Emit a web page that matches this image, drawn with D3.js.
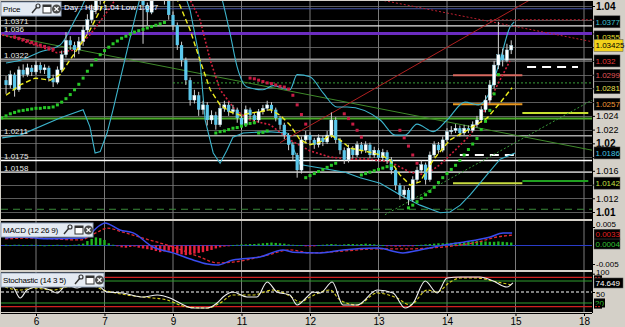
<!DOCTYPE html>
<html><head><meta charset="utf-8">
<script src="https://cdn.jsdelivr.net/npm/d3@7"></script>
<style>body{margin:0;background:#d4d0c8;overflow:hidden}svg{display:block;font-family:"Liberation Sans",Arial,sans-serif}</style>
</head><body><svg id="c" width="625" height="327"></svg>
<script>
// ---------- DATA ----------
const dayTicks = [0,16,32,48,64,80,96,112,128];
const dayLabels = ["6","7","9","11","12","13","14","15","18"];
const firstBar = -7;
const firstOpen = 1.0292;
const closes = [1.0285,1.0300,1.0278,1.0307,1.0300,1.0310,1.0304,1.0314,1.0307,1.0310,1.0295,1.0289,1.0307,1.0329,1.0350,1.0343,1.0336,1.0348,1.0365,1.0380,1.0394,1.0409,1.0423,1.0445,
1.0452,1.0467,1.0459,1.0474,1.0452,1.0438,1.0445,1.0423,
1.0401,1.0391,1.0416,1.0431,1.0423,1.0409,1.0387,1.0372,1.0343,1.0321,
1.0292,1.0263,1.0270,1.0249,1.0256,1.0234,1.0241,1.0227,1.0251,1.0256,
1.0246,1.0249,1.0237,1.0227,1.0249,1.0241,1.0234,1.0246,1.0251,1.0256,
1.0249,1.0237,1.0227,1.0212,1.0198,1.0183,1.0161,1.0205,1.0212,1.0205,
1.0198,1.0208,1.0202,1.0212,1.0234,1.0205,1.0190,1.0176,1.0193,1.0183,
1.0198,1.0190,1.0198,1.0183,1.0190,1.0179,1.0187,1.0176,1.0161,1.0139,
1.0125,1.0132,1.0118,1.0147,1.0161,1.0169,1.0147,1.0183,1.0198,1.0190,
1.0205,1.0217,1.0219,1.0222,1.0215,1.0222,1.0219,1.0227,1.0234,1.0249,
1.0263,1.0285,1.0314,1.0329,1.0321,1.0336,1.03425];
const highs = [1.0298,1.0306,1.0303,1.0312,1.0315,1.0316,1.0314,1.0320,1.0318,1.0315,1.0313,1.0300,1.0312,1.0335,1.0362,1.0356,1.0348,1.0355,1.0372,1.0388,1.0402,1.0416,1.0430,1.0452,
1.0460,1.0475,1.0472,1.0480,1.0478,1.0456,1.0450,1.0448,
1.0426,1.0405,1.0420,1.0436,1.0435,1.0426,1.0412,1.0392,1.0376,1.0348,
1.0325,1.0296,1.0278,1.0275,1.0262,1.0260,1.0248,1.0246,1.0258,1.0262,
1.0260,1.0256,1.0252,1.0240,1.0255,1.0252,1.0245,1.0250,1.0256,1.0262,
1.0260,1.0252,1.0240,1.0230,1.0215,1.0202,1.0186,1.0210,1.0218,1.0216,
1.0208,1.0213,1.0211,1.0218,1.0245,1.0238,1.0208,1.0194,1.0198,1.0196,
1.0203,1.0202,1.0203,1.0201,1.0195,1.0193,1.0192,1.0190,1.0180,1.0164,
1.0142,1.0138,1.0135,1.0152,1.0166,1.0175,1.0172,1.0188,1.0203,1.0202,
1.0210,1.0222,1.0225,1.0228,1.0226,1.0227,1.0226,1.0232,1.0240,1.0254,
1.0270,1.0292,1.0320,1.0377,1.0338,1.0345,1.0350];
const lows = [1.0272,1.0280,1.0268,1.0275,1.0296,1.0297,1.0298,1.0300,1.0302,1.0301,1.0290,1.0282,1.0286,1.0303,1.0325,1.0336,1.0325,1.0330,1.0342,1.0360,1.0375,1.0388,1.0402,1.0418,
1.0440,1.0446,1.0450,1.0452,1.0445,1.0430,1.0432,1.0415,
1.0345,1.0372,1.0388,1.0412,1.0418,1.0402,1.0380,1.0365,1.0336,1.0312,
1.0285,1.0255,1.0258,1.0240,1.0242,1.0226,1.0228,1.0220,1.0224,1.0246,
1.0240,1.0242,1.0230,1.0220,1.0224,1.0235,1.0228,1.0230,1.0242,1.0247,
1.0244,1.0232,1.0220,1.0206,1.0190,1.0175,1.0150,1.0156,1.0200,1.0198,
1.0192,1.0194,1.0196,1.0199,1.0208,1.0200,1.0184,1.0170,1.0172,1.0178,
1.0180,1.0185,1.0186,1.0178,1.0179,1.0174,1.0175,1.0170,1.0155,1.0132,
1.0118,1.0120,1.0110,1.0115,1.0143,1.0157,1.0140,1.0144,1.0180,1.0185,
1.0187,1.0202,1.0213,1.0215,1.0210,1.0212,1.0215,1.0216,1.0223,1.0230,
1.0245,1.0258,1.0280,1.0308,1.0312,1.0318,1.0330];

const bandUpper = [[-7,1.0317],[-3.7,1.0321],[0.9,1.0333],[5.6,1.0343],[9.1,1.0380],[11.4,1.0409],[13.8,1.0467],[26.6,1.0500],[40.7,1.0467],[43.5,1.0409],[45.3,1.0361],[47,1.0311],[49.3,1.0282],[53,1.0278],[55.4,1.0284],[59.3,1.0278],[61,1.0300],[64,1.0297],[67.1,1.0273],[70.3,1.0253],[72.7,1.0253],[80.4,1.0234],[83.9,1.0212],[86.2,1.0212],[89,1.0228],[92.8,1.0217],[96,1.0234],[100.2,1.0260],[103.3,1.0256],[105.6,1.0270],[108.4,1.0321],[110.7,1.0369],[111.7,1.0377]];
const bandLower = [[-7.9,1.0208],[-3.7,1.0212],[5.6,1.0237],[11,1.0249],[12.6,1.0224],[13.8,1.0186],[15,1.0188],[16.6,1.0215],[18,1.0249],[21.3,1.0336],[23.6,1.0395],[25.5,1.0440],[33.6,1.0438],[36,1.0394],[38.3,1.0321],[39.5,1.0234],[41.4,1.0186],[43,1.0171],[44.6,1.0190],[46,1.0209],[48.4,1.0215],[54,1.0217],[58.6,1.0215],[61.7,1.0169],[66.4,1.0164],[72.2,1.0158],[75.7,1.0150],[80.4,1.0142],[85,1.0125],[89.7,1.0110],[94.4,1.0099],[96.7,1.0100],[99.1,1.0110],[101.4,1.0125],[103.7,1.0142],[106.1,1.0160],[108.4,1.0177],[111.9,1.0186]];
const maFast = [[-7,1.0270],[-3.7,1.0285],[-0.2,1.0295],[3.3,1.0292],[5.6,1.0300],[7.9,1.0321],[10.3,1.0343],[12.6,1.0365],[15,1.0394],[17.3,1.0423],[22,1.0440],[29,1.0423],[32.5,1.0416],[33.6,1.0401],[36,1.0365],[38.3,1.0321],[40.7,1.0278],[43,1.0256],[45.3,1.0246],[47.7,1.0241],[50,1.0244],[52.3,1.0246],[54.7,1.0249],[57,1.0241],[59.3,1.0227],[61.7,1.0205],[64,1.0198],[66.4,1.0202],[68.7,1.0212],[71,1.0205],[73.4,1.0193],[75.7,1.0190],[78,1.0187],[80.4,1.0183],[82.7,1.0176],[85,1.0154],[87.4,1.0139],[89.7,1.0144],[92.8,1.0176],[96.7,1.0205],[100.7,1.0219],[105.4,1.0237],[108.4,1.0259],[111.2,1.0281]];
const maSlow = [[-7.9,1.0358],[-4.9,1.0353],[-0.2,1.0343],[4.9,1.0332],[9.1,1.0336],[12.6,1.0358],[16.1,1.0387],[18.5,1.0409],[22,1.0438],[32.5,1.0438],[36,1.0409],[38.3,1.0380],[40.7,1.0321],[43,1.0278],[46.5,1.0249],[50,1.0234],[54.7,1.0227],[59.3,1.0205],[64,1.0189],[68.7,1.0180],[73.4,1.0177],[78,1.0177],[82.7,1.0173],[87.4,1.0158],[90.9,1.0154],[94.4,1.0169],[97.9,1.0190],[101.4,1.0212],[104.9,1.0249],[107.2,1.0278],[110.7,1.0320]];
const sarUp = [[-8,1.0237],[-7,1.0240],[-6,1.0243],[-5,1.0245],[-4,1.0247],[-3,1.0248],[-2,1.0249],[-1,1.0250],[0,1.0251],[1,1.0251],[2,1.0252],[3,1.0252],[4,1.0253],[5,1.0256],[6,1.0260],[7,1.0265],[8,1.0271],[9,1.0278],[10,1.0286],[11,1.0295],[12,1.0305],[13,1.0314],[14,1.0322],[15,1.0329],[16,1.0335],[17,1.0340],[18,1.0345],[19,1.0349],[20,1.0353],[21,1.0356],[22,1.0359],[23,1.0362],[24,1.0364],[25,1.0366],[26,1.0368],[27,1.0370],[28,1.0372],[29,1.0374],[30,1.0376],
[42,1.0215],[43,1.0217],[44,1.0218],[45,1.0220],[46,1.0222],[47,1.0223],[48,1.0225],[49,1.0227],[50,1.0229],[51,1.0230],[52,1.0215],[53,1.0216],[54,1.0218],
[63,1.0150],[64,1.0153],[65,1.0156],[66,1.0159],[67,1.0162],[68,1.0165],[69,1.0168],[70,1.0171],
[76,1.0154],[77,1.0156],[78,1.0158],[79,1.0160],[80,1.0162],[81,1.0164],[82,1.0166],[83,1.0168],
[87,1.0106],[88,1.0110],[89,1.0115],[90,1.0120],[91,1.0125],[92,1.0130],[93,1.0136],[94,1.0143],[95,1.0150],[96,1.0156],[97,1.0162],[98,1.0168],[99,1.0175],[100,1.0183],[101,1.0191],[102,1.0199],[103,1.0207],[104,1.0220],[105,1.0232],[106,1.0248],[107,1.0272],[108,1.0300]];
const sarDown = [[-5,1.0355],[-4,1.0353],[-3,1.0351],[-2,1.0349],[-1,1.0347],[0,1.0345],[1,1.0343],[2,1.0341],[3,1.0339],[4,1.0337],
[50,1.0295],[51,1.0294],[52,1.0292],[53,1.0290],[54,1.0288],[55,1.0287],[56,1.0285],[57,1.0283],[58,1.0282],[59,1.0279],[60,1.0270],[61,1.0256],[62,1.0242],[63,1.0228],
[72,1.0243],[73,1.0236],[74,1.0228],[75,1.0219],[76,1.0209],
[85,1.0219],[86,1.0208],[87,1.0196],[88,1.0183],[89,1.0171]];

const fullLevels = [1.0396,1.0371,1.036,1.0322,1.0288,1.0236,1.0211,1.0175,1.0158,1.0104];
const leftLabelValues = [1.0371,1.036,1.0322,1.0211,1.0175,1.0158];
const leftLabelText = ["1.0371","1.036","1.0322","1.0211","1.0175","1.0158"];
const segLevels = [1.0299,1.0257,1.0142,1.0244,1.0145,1.0311,1.0183];
const segFrom = [97.4,97.4,97.4,113.6,113.6,114.7,99];
const segTo = [113.6,113.6,113.6,129,129,126.6,113];
const trendLines = [[[-7.9,1.0358],[129.9,1.0190]],[[57,1.0201],[115.4,1.0409]],[[80.4,1.0409],[129.9,1.0348]],[[106,1.0380],[130,1.0380]],[[81.5,1.0096],[129.9,1.0263]]];
const priceTicks = d3.range(0,16).map(k=>1.010+k*0.002);
const priceTags = [1.0377,1.0355,1.03425,1.032,1.0299,1.0281,1.0257,1.0186,1.0142];
const priceTagText = ["1.0377","1.0355","1.03425","1.032","1.0299","1.0281","1.0257","1.0186","1.0142"];

const macdLine = [[-7.2,0.0020],[-3.7,0.0023],[3.3,0.0018],[11,0.0020],[15,0.0055],[16.1,0.0061],[19.6,0.0042],[22.7,0.0034],[27.3,-0.0004],[32,-0.0020],[36.7,-0.0039],[40,-0.0050],[42.3,-0.0053],[46,-0.0039],[52.3,-0.0031],[57.7,-0.0012],[60,-0.0018],[66.4,-0.0020],[71.7,-0.0012],[79.7,-0.0007],[85.7,-0.0020],[89.7,-0.0012],[95.1,0.0001],[99.8,0.0009],[106.1,0.0023],[109.1,0.0034],[111.2,0.0034]];
const macdSignal = [[-7.2,0.0018],[-0.7,0.0020],[10.3,0.0015],[14.3,0.0036],[16.6,0.0047],[20.3,0.0036],[25,0.0020],[32,-0.0004],[38.3,-0.0031],[42.3,-0.0047],[46,-0.0045],[54,-0.0026],[59.3,-0.0012],[64,-0.0020],[71.7,-0.0015],[79.7,-0.0009],[87.4,-0.0009],[95.1,-0.0004],[103,0.0009],[107.7,0.0023],[111.4,0.0028]];
const macdHist = [0.0002,0.0001,0.0002,0.0002,0.0001,0.0001,0.0002,0.0002,0.0001,0,0.0001,0.0001,0.0002,0.0001,0,0.0001,0.0002,0.0003,
0.0005,0.0012,0.0018,0.0022,0.0020,0.0015,
0.0006,0.0002,-0.0002,
-0.0005,-0.0006,-0.0004,-0.0003,-0.0006,-0.0008,-0.0010,
-0.0012,-0.0015,-0.0018,-0.0016,-0.0014,-0.0018,-0.0022,-0.0024,-0.0026,-0.0025,-0.0022,-0.0020,-0.0018,-0.0015,-0.0012,-0.0008,-0.0005,-0.0003,-0.0001,
0.0001,0.0002,0.0003,0.0003,0.0004,0.0004,0.0005,0.0006,0.0007,0.0008,0.0007,0.0006,0.0005,0.0003,0.0002,0.0001,0.0001,-0.0002,-0.0003,-0.0002,0.0001,
0.0002,0.0003,0.0004,0.0003,0.0002,0.0003,0.0004,0.0004,0.0003,0.0004,0.0005,0.0004,0.0003,0.0002,0.0001,-0.0001,-0.0002,-0.0003,
-0.0003,-0.0002,-0.0002,-0.0001,0.0001,0.0002,
0.0003,0.0004,0.0005,0.0006,0.0006,0.0007,0.0007,0.0008,0.0008,0.0009,0.0010,0.0011,0.0012,0.0012,0.0011,0.0010,0.0010,0.0011,0.0010,0.0009,0.0008];
const macdTicks = [0.005,-0.005];
const macdTags = [0.0033,0.0004];
const macdTagText = ["0.0033","0.0004"];

const stochK = [[-7.2,69],[-5.4,63.5],[-3.7,33.5],[-2.1,55.4],[0.2,63.5],[3.3,55.4],[4.9,47.2],[7.2,69],[9.6,60.8],[12.6,74.4],[15,63.5],[16.6,49.9],[20.3,47.2],[25,36.3],[28.3,41.7],[31.3,33.5],[33.6,19.9],[36.7,6.3],[40,6.3],[42.3,19.9],[43.7,36.3],[46,49.9],[49.3,36.3],[51.6,36.3],[54,77.2],[56.3,49.9],[59.3,41.7],[61,14.5],[63.3,36.3],[64.7,49.9],[66.4,47.2],[69.2,77.2],[71.7,14.5],[75,14.5],[79.7,55.4],[83.4,47.2],[86.2,6.3],[88.1,19.9],[90.9,79.9],[93.7,47.2],[96,88.1],[99.1,90.8],[103.7,90.8],[106.8,79.9],[110,63.5],[111.4,74.649]];
const stochD = [[-7.2,63.5],[-3.7,55.4],[-0.7,60.8],[4,55.4],[7.2,63.5],[12.6,69],[15.7,55.4],[21.3,41.7],[25,36.3],[30.6,28.1],[35.3,9],[40,6.3],[43,19.9],[46,41.7],[50.7,41.7],[55.4,55.4],[59.3,39],[61.7,22.6],[64,36.3],[68.7,55.4],[71,28.1],[75,14.5],[79.7,47.2],[84.3,33.5],[87.4,14.5],[91.4,55.4],[93.7,49.9],[96.7,77.2],[99.1,88.1],[103,88.1],[107.7,77.2],[111.4,69]];
const stochLevels = [90,80,50,20,10];

// ---------- LAYOUT ----------
const svg = d3.select("#c");
const PX0=1, PX1=592;
const main={y0:1,y1:219}, mp={y0:221,y1:270}, sp={y0:272,y1:312};
const x = d3.scaleLinear().domain([0,128]).range([36,584]);
const yP = d3.scaleLinear().domain([1.01,1.04]).range([212,6]);
const yM = d3.scaleLinear().domain([-0.005,0.005]).range([264,227]);
const yS = d3.scaleLinear().domain([0,100]).range([310.3,273.7]);

svg.append("rect").attr("width",625).attr("height",327).attr("fill","#d4d0c8");
const defs=svg.append("defs");
[["cm",main],["cmacd",mp],["cst",sp]].forEach(([id,p])=>{
  defs.append("clipPath").attr("id",id).append("rect").attr("x",PX0).attr("y",p.y0).attr("width",PX1-PX0).attr("height",p.y1-p.y0);
});
[main,mp,sp].forEach(p=>svg.append("rect").attr("x",PX0).attr("y",p.y0).attr("width",PX1-PX0).attr("height",p.y1-p.y0).attr("fill","#000"));

function vgrid(g,p){
  g.selectAll(null).data(dayTicks).join("line").attr("x1",d=>x(d)).attr("x2",d=>x(d)).attr("y1",p.y0).attr("y2",p.y1).attr("stroke","#7a7a7a").attr("stroke-width",1);
}
const lineP = d3.line().x(d=>x(d[0])).y(d=>yP(d[1]));

// ----- main panel -----
const gm = svg.append("g").attr("clip-path","url(#cm)");
gm.selectAll(null).data(priceTicks).join("line").attr("x1",PX0).attr("x2",PX1).attr("y1",d=>Math.round(yP(d))+0.5).attr("y2",d=>Math.round(yP(d))+0.5).attr("stroke","#5c5c5c");
vgrid(gm,main);

const levelStyle=[
 {c:"#4a5aa8",w:1},{c:"#e6e6e6",w:1.3},{c:"#6b2cc0",w:3},{c:"#9c9c9c",w:2},
 {c:"#3aa03a",w:1,dash:"2,2",from:32},{c:"#4caa2c",w:2},{c:"#a8a8a8",w:1.5},
 {c:"#ffffff",w:1.5},{c:"#b4b4b4",w:1.5},{c:"#3a8a3a",w:1,dash:"7,5"}];
fullLevels.forEach((v,i)=>{
  const s=levelStyle[i];
  gm.append("line").attr("x1",s.from!=null?x(s.from):PX0).attr("x2",PX1).attr("y1",yP(v)).attr("y2",yP(v))
    .attr("stroke",s.c).attr("stroke-width",s.w).attr("stroke-dasharray",s.dash||null);
});
const segStyle=[{c:"#d86a60",w:2},{c:"#e8961e",w:2},{c:"#c8dc40",w:2},{c:"#c8e030",w:2},{c:"#20a020",w:2},{c:"#ffffff",w:2,dash:"9,6"},{c:"#ffffff",w:2,dash:"9,6"}];
segLevels.forEach((v,i)=>{
  const s=segStyle[i];
  gm.append("line").attr("x1",x(segFrom[i])).attr("x2",x(segTo[i])).attr("y1",yP(v)).attr("y2",yP(v))
    .attr("stroke",s.c).attr("stroke-width",s.w).attr("stroke-dasharray",s.dash||null);
});
const trendStyle=[{c:"#3f8a2a",w:1},{c:"#b02020",w:1},{c:"#c02030",w:1,dash:"2,2"},{c:"#c02030",w:1,dash:"2,2"},{c:"#3a9a3a",w:1,dash:"2,2"}];
trendLines.forEach((t,i)=>{
  const s=trendStyle[i];
  gm.append("path").attr("d",lineP(t)).attr("fill","none").attr("stroke",s.c).attr("stroke-width",s.w).attr("stroke-dasharray",s.dash||null);
});
const bandLine = d3.line().x(d=>x(d[0])).y(d=>yP(d[1])).curve(d3.curveMonotoneX);
gm.append("path").attr("d",bandLine(bandUpper)).attr("fill","none").attr("stroke","#3cb4cc").attr("stroke-width",1.1);
gm.append("path").attr("d",lineP(bandLower)).attr("fill","none").attr("stroke","#3cb4cc").attr("stroke-width",1.1);
gm.append("path").attr("d",lineP(maSlow)).attr("fill","none").attr("stroke","#d0203c").attr("stroke-width",1.6).attr("stroke-dasharray","2,2");

const bars = closes.map((c,i)=>({b:firstBar+i,o:i?closes[i-1]:firstOpen,c,h:highs[i],l:lows[i]}));
gm.selectAll(null).data(bars).join("line").attr("x1",d=>x(d.b)).attr("x2",d=>x(d.b)).attr("y1",d=>yP(d.h)).attr("y2",d=>yP(d.l)).attr("stroke","#d0d0d0").attr("stroke-width",1);
gm.selectAll(null).data(bars).join("rect").attr("x",d=>x(d.b)-1.6).attr("width",3.2)
  .attr("y",d=>yP(Math.max(d.o,d.c))).attr("height",d=>Math.max(1,Math.abs(yP(d.o)-yP(d.c))))
  .attr("fill",d=>d.c>=d.o?"#ffffff":"#5cc8ec").attr("stroke",d=>d.c>=d.o?"#9adcf0":"none").attr("stroke-width",0.4);
gm.append("path").attr("d",lineP(maFast)).attr("fill","none").attr("stroke","#ecec20").attr("stroke-width",1.4).attr("stroke-dasharray","5,3");
gm.selectAll(null).data(sarUp).join("rect").attr("x",d=>x(d[0])-1.5).attr("y",d=>yP(d[1])-1.5).attr("width",3).attr("height",3).attr("fill","#28c828");
gm.selectAll(null).data(sarDown).join("rect").attr("x",d=>x(d[0])-1.5).attr("y",d=>yP(d[1])-1.5).attr("width",3).attr("height",3).attr("fill","#c81c44");

leftLabelValues.forEach((v,i)=>{
  svg.append("text").attr("x",4).attr("y",yP(v)-1.5).attr("font-size",8).attr("fill","#e8e8e8").text(leftLabelText[i]);
});
svg.append("text").attr("x",64).attr("y",10).attr("font-size",8).attr("fill","#ffffff").text("Day : High 1.04 Low 1.027");

// ----- MACD panel -----
const gmc = svg.append("g").attr("clip-path","url(#cmacd)");
vgrid(gmc,mp);
gmc.append("line").attr("x1",PX0).attr("x2",PX1).attr("y1",yM(0)).attr("y2",yM(0)).attr("stroke","#2a3cc8").attr("stroke-width",1);
gmc.selectAll(null).data(macdHist.map((v,i)=>[firstBar+i,v])).join("rect")
  .attr("x",d=>x(d[0])-1.2).attr("width",2.4)
  .attr("y",d=>Math.min(yM(0),yM(d[1]))).attr("height",d=>Math.max(0.8,Math.abs(yM(d[1])-yM(0))))
  .attr("fill",d=>d[1]>=0?"#1fb41f":"#e8203c");
const lineM=d3.line().x(d=>x(d[0])).y(d=>yM(d[1])).curve(d3.curveMonotoneX);
gmc.append("path").attr("d",lineM(macdSignal)).attr("fill","none").attr("stroke","#e02830").attr("stroke-width",1.3).attr("stroke-dasharray","3,2");
gmc.append("path").attr("d",lineM(macdLine)).attr("fill","none").attr("stroke","#3a4cf0").attr("stroke-width",1.5);

// ----- Stochastic panel -----
const gs = svg.append("g").attr("clip-path","url(#cst)");
vgrid(gs,sp);
const stStyle={90:["#d02020",null],80:["#30a030",null],50:["#ffffff","3,2"],20:["#30a030",null],10:["#d02020",null]};
stochLevels.forEach(v=>{
  gs.append("line").attr("x1",PX0).attr("x2",PX1).attr("y1",yS(v)).attr("y2",yS(v)).attr("stroke",stStyle[v][0]).attr("stroke-width",1.2).attr("stroke-dasharray",stStyle[v][1]);
});
const lineS=d3.line().x(d=>x(d[0])).y(d=>yS(d[1])).curve(d3.curveMonotoneX);
gs.append("path").attr("d",lineS(stochD)).attr("fill","none").attr("stroke","#d8d020").attr("stroke-width",1.1).attr("stroke-dasharray","3,2");
gs.append("path").attr("d",lineS(stochK)).attr("fill","none").attr("stroke","#f0f0f0").attr("stroke-width",1.1);

// ----- headers -----
function header(x0,y0,w,label){
  const g=svg.append("g");
  g.append("rect").attr("x",x0).attr("y",y0).attr("width",w).attr("height",14).attr("fill","#e4eaf2").attr("stroke","#8fa0b8");
  const ix=x0+w-29;
  g.append("text").attr("x",x0+2).attr("y",y0+10).attr("font-size",8).attr("letter-spacing",-0.2).attr("fill","#000")
    .attr("textLength",null).text(label);
  g.append("line").attr("x1",ix).attr("y1",y0+11).attr("x2",ix+5).attr("y2",y0+5).attr("stroke","#333").attr("stroke-width",1.4);
  g.append("circle").attr("cx",ix+6).attr("cy",y0+4).attr("r",2).attr("fill","none").attr("stroke","#333").attr("stroke-width",1.2);
  g.append("rect").attr("x",ix+11).attr("y",y0+3).attr("width",8).attr("height",8).attr("fill","#fff").attr("stroke","#333");
  g.append("rect").attr("x",ix+11).attr("y",y0+3).attr("width",8).attr("height",2).attr("fill","#333");
  g.append("circle").attr("cx",ix+24.5).attr("cy",y0+7).attr("r",4.5).attr("fill","#4a4a4a");
  g.append("path").attr("d",`M${ix+22.5},${y0+5}L${ix+26.5},${y0+9}M${ix+26.5},${y0+5}L${ix+22.5},${y0+9}`).attr("stroke","#fff").attr("stroke-width",1.2);
}
header(1,2,60,"Price");
header(1,223,92,"MACD (12 26 9)");
header(1,273,103,"Stochastic (14 3 5)");

// ----- right axes -----
svg.append("line").attr("x1",PX1+0.5).attr("x2",PX1+0.5).attr("y1",1).attr("y2",313).attr("stroke","#000");
const isRound = d=>Math.abs(d*100-Math.round(d*100))<1e-6;
const covered = d=>priceTags.some(t=>Math.abs(yP(t)-yP(d))<9);
const ax = d3.axisRight(yP).tickValues(priceTicks).tickSize(3).tickFormat(d=>covered(d)?"":String(+d.toFixed(3)));
const ga = svg.append("g").attr("transform",`translate(${PX1},0)`).call(ax);
ga.select(".domain").remove();
ga.selectAll("text").attr("font-size",d=>isRound(d)?10:9).attr("font-weight",d=>isRound(d)?"bold":"normal").attr("x",4).attr("fill","#000").attr("font-family","Liberation Sans, Arial, sans-serif");

const tagStyle=[["#000","#3cc0d0"],["#000","#e8e030"],["#f2d21a","#000"],["#000","#e03838"],["#000","#e05858"],["#000","#e8e050"],["#000","#f09a38"],["#000","#40c4e0"],["#000","#c4e040"]];
function tag(yv,txt,bg,fg,w,h){
  h=h||12;
  svg.append("rect").attr("x",594).attr("y",yv-h/2).attr("width",w||27).attr("height",h).attr("fill",bg).attr("stroke","#555").attr("stroke-width",0.5);
  svg.append("text").attr("x",595.5).attr("y",yv+3).attr("font-size",8).attr("fill",fg).text(txt);
}
priceTags.forEach((v,i)=>tag(yP(v),priceTagText[i],tagStyle[i][0],tagStyle[i][1],priceTagText[i].length>6?29:26));

const am = d3.axisRight(yM).tickValues(macdTicks).tickSize(3).tickFormat(d=>String(d));
const gam = svg.append("g").attr("transform",`translate(${PX1},0)`).call(am);
gam.select(".domain").remove();
gam.selectAll("text").attr("font-size",8).attr("x",4).attr("fill","#000").attr("dy",d=>d>0?"-0.1em":"0.32em");
tag(yM(macdTags[0])+1,macdTagText[0],"#000","#e02020",26,10);
tag(yM(macdTags[1]),macdTagText[1],"#000","#30c030",26,10);

const as = d3.axisRight(yS).tickValues([100,50]).tickSize(3).tickFormat(d=>String(d));
const gas = svg.append("g").attr("transform",`translate(${PX1},0)`).call(as);
gas.select(".domain").remove();
gas.selectAll("text").attr("font-size",8).attr("x",4).attr("fill","#000").attr("dy",d=>d>60?"0.1em":"0.55em");
svg.append("rect").attr("x",594).attr("y",yS(90)-2).attr("width",8).attr("height",4).attr("fill","#000");
svg.append("line").attr("x1",595).attr("x2",601).attr("y1",yS(90)).attr("y2",yS(90)).attr("stroke","#d02020").attr("stroke-dasharray","2,1");
tag(yS(74.649),"74.649","#000","#ffffff",29,10);
svg.append("rect").attr("x",594).attr("y",yS(20)-4.5).attr("width",11).attr("height",9).attr("fill","#000");
svg.append("text").attr("x",595).attr("y",yS(20)+3).attr("font-size",8).attr("fill","#30c030").text("20");
svg.append("rect").attr("x",594).attr("y",yS(10)-2).attr("width",8).attr("height",4).attr("fill","#000");
svg.append("line").attr("x1",595).attr("x2",601).attr("y1",yS(10)).attr("y2",yS(10)).attr("stroke","#d02020").attr("stroke-dasharray","2,1");

// ----- bottom axis -----
const bx = d3.axisBottom(x).tickValues(dayTicks).tickSize(3).tickFormat((d,i)=>dayLabels[i]);
const gb = svg.append("g").attr("transform","translate(0,313)").call(bx);
gb.select(".domain").attr("stroke","#000").attr("d",`M${PX0},0.5H${PX1}`);
gb.selectAll("text").attr("font-size",10).attr("fill","#000").attr("y",5);
</script></body></html>
